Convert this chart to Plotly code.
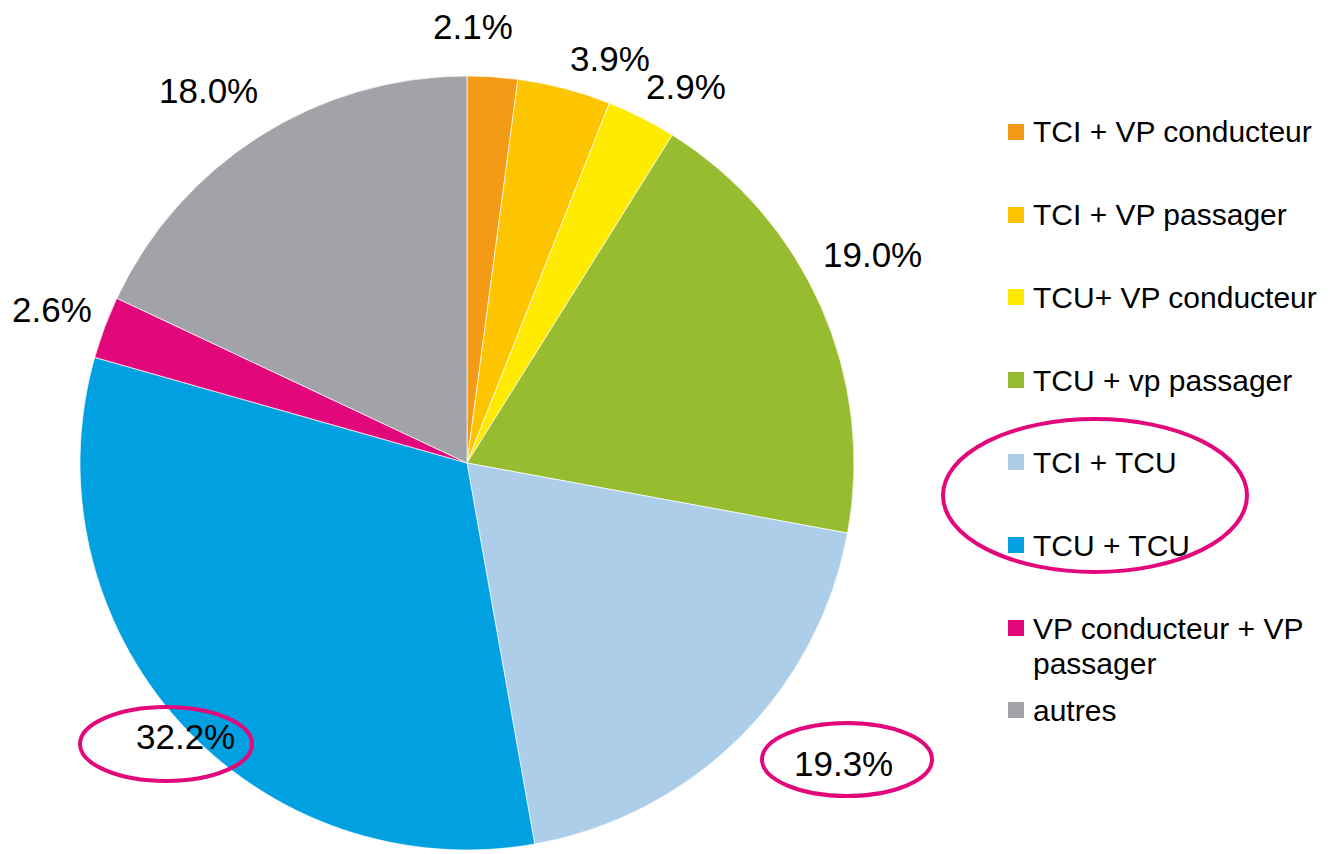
import plotly.graph_objects as go

# ---- data ----
categories = [
    "TCI + VP conducteur",
    "TCI + VP passager",
    "TCU+ VP conducteur",
    "TCU + vp passager",
    "TCI + TCU",
    "TCU + TCU",
    "VP conducteur + VP<br>passager",
    "autres",
]
values = [2.1, 3.9, 2.9, 19.0, 19.3, 32.2, 2.6, 18.0]
labels_txt = ["2.1%", "3.9%", "2.9%", "19.0%", "19.3%", "32.2%", "2.6%", "18.0%"]
colors = ["#F39A17", "#FDC400", "#FFEB00", "#97BC2F", "#ADCEE9", "#00A0E1", "#E2087C", "#A2A3A8"]

# ---- layout helpers (pixel positions) ----
W, H = 1330, 854
cx, cy, r = 467, 463, 387

def px(x):
    return x / W

def py(y):
    return 1 - y / H

label_pos = [(473, 26), (610, 59), (686, 86), (873, 254), (843, 763), (185, 736), (52, 309), (208, 90)]
legend_y = [132, 215, 297, 380, 462, 545, 628, 710]
line_gap = 35

fig = go.Figure(
    go.Pie(
        labels=categories,
        values=values,
        sort=False,
        direction="clockwise",
        rotation=0,
        marker=dict(colors=colors, line=dict(color="#FFFFFF", width=0.7)),
        textinfo="none",
        hoverinfo="label+percent",
        showlegend=False,
        domain=dict(x=[px(cx - r), px(cx + r)], y=[py(cy + r), py(cy - r)]),
    )
)

annotations = []
for txt, (x, y) in zip(labels_txt, label_pos):
    annotations.append(dict(
        x=px(x), y=py(y), xref="paper", yref="paper", text=txt, showarrow=False,
        xanchor="center", yanchor="middle",
        font=dict(family="Liberation Sans, Arial", size=35, color="#000000"),
    ))

shapes = []
for name, col, y in zip(categories, colors, legend_y):
    shapes.append(dict(type="rect", xref="paper", yref="paper",
                       x0=px(1008), x1=px(1024), y0=py(y + 8), y1=py(y - 8),
                       fillcolor=col, line=dict(width=0)))
    for i, part in enumerate(name.split("<br>")):
        annotations.append(dict(
            x=px(1031), y=py(y + i * line_gap), xref="paper", yref="paper", text=part,
            showarrow=False, xanchor="left", yanchor="middle", align="left",
            font=dict(family="Liberation Sans, Arial", size=30, color="#000000"),
        ))

# highlight ellipses
for (x0, y0, x1, y1) in [(943, 419, 1247, 572), (80, 707, 252, 781), (762, 723, 932, 796)]:
    shapes.append(dict(type="circle", xref="paper", yref="paper",
                       x0=px(x0), x1=px(x1), y0=py(y1), y1=py(y0),
                       line=dict(color="#E2087C", width=4), fillcolor="rgba(0,0,0,0)"))

fig.update_layout(
    width=W, height=H,
    margin=dict(l=0, r=0, t=0, b=0),
    paper_bgcolor="#FFFFFF", plot_bgcolor="#FFFFFF",
    annotations=annotations, shapes=shapes,
    showlegend=False,
)

fig.write_html(
    "out.html",
    config={"displayModeBar": False},
    post_script="document.body.style.margin='0';document.body.style.overflow='hidden';",
)
